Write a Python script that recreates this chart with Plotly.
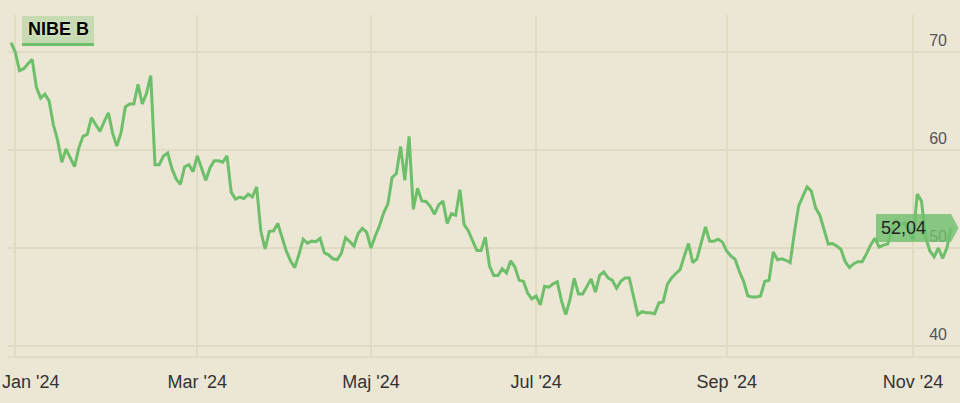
import pandas as pd
import plotly.graph_objects as go

# ---- data -------------------------------------------------------------
HOLIDAYS = ["2024-01-01", "2024-03-29", "2024-04-01", "2024-05-01",
            "2024-05-09", "2024-06-06", "2024-06-21"]
dates = [d.strftime("%Y-%m-%d") for d in pd.bdate_range("2023-12-29", "2024-11-14")
         if d.strftime("%Y-%m-%d") not in HOLIDAYS]

prices = [
    70.95, 70.0, 68.1, 68.3, 68.8, 69.25, 66.4, 65.3, 65.7, 65.0,
    62.6, 61.0, 58.75, 60.1, 59.2, 58.3, 60.2, 61.4, 61.6, 63.3,
    62.6, 61.9, 62.9, 63.8, 61.7, 60.4, 61.8, 64.4, 64.7, 64.7,
    66.7, 64.7, 65.8, 67.6, 58.5, 58.5, 59.4, 59.7, 58.1, 57.05,
    56.5, 58.3, 58.5, 57.8, 59.4, 58.1, 56.9, 58.2, 58.9, 58.9,
    58.75, 59.4, 55.7, 55.0, 55.2, 55.05, 55.5, 55.2, 56.25, 51.7,
    49.9, 51.7, 51.75, 52.5, 51.2, 49.7, 48.7, 48.0, 49.35, 50.9,
    50.5, 50.7, 50.65, 51.0, 49.5, 49.3, 48.9, 48.8, 49.45, 51.05,
    50.65, 50.2, 51.5, 52.0, 51.6, 50.0, 51.2, 52.25, 53.6, 54.5,
    57.2, 57.6, 60.35, 56.9, 61.4, 53.95, 56.1, 54.8, 54.75, 54.25,
    53.45, 54.4, 54.8, 52.5, 53.5, 53.35, 55.95, 52.4, 51.75, 50.8,
    49.75, 49.75, 51.1, 48.15, 47.2, 47.2, 47.9, 47.45, 48.7, 48.05,
    46.7, 46.6, 45.4, 44.8, 45.1, 44.2, 46.1, 46.0, 46.35, 46.55,
    44.6, 43.2, 44.75, 46.9, 45.3, 45.3, 46.1, 46.85, 45.5, 47.2,
    47.55, 46.95, 46.7, 45.9, 46.6, 46.95, 46.95, 45.1, 43.2, 43.5,
    43.4, 43.4, 43.3, 44.4, 44.5, 46.3, 46.95, 47.4, 47.8, 49.2,
    50.45, 48.5, 48.9, 50.55, 52.15, 50.7, 50.7, 50.9, 50.6, 49.7,
    49.2, 48.85, 47.6, 46.6, 45.1, 45.0, 45.0, 45.1, 46.6, 46.7,
    49.6, 48.8, 48.9, 48.75, 48.5, 51.6, 54.3, 55.3, 56.25, 55.8,
    54.1, 53.35, 51.8, 50.4, 50.45, 50.2, 49.85, 48.6, 48.0, 48.4,
    48.6, 48.6, 49.4, 50.3, 51.0, 50.1, 50.3, 50.4, 51.8, 52.9,
    52.3, 52.6, 51.9, 50.8, 55.5, 54.8, 51.05, 49.7, 49.1, 50.0,
    48.95, 50.0, 52.04,
]
assert len(dates) == len(prices), (len(dates), len(prices))

x_tick_dates = ["2024-01-02", "2024-03-01", "2024-05-02", "2024-07-01", "2024-09-02", "2024-11-01"]
x_tick_labels = ["Jan '24", "Mar '24", "Maj '24", "Jul '24", "Sep '24", "Nov '24"]
y_ticks = [40, 50, 60, 70]
series_name = "NIBE B"

# ---- style ------------------------------------------------------------
BG = "#ece6d5"
GRID = "#e2dbc4"
LINE = "#6dbf6a"
FONT = "Liberation Sans, Arial, sans-serif"
W, H = 960, 403
ML, MR, MT, MB = 8, 0, 15, 47
PW, PH = W - ML - MR, H - MT - MB
XFONT = dict(family=FONT, size=18, color="#333333")


def px_x(px):
    return (px - ML) / PW


def px_y(py):
    return (H - MB - py) / PH


fig = go.Figure()
fig.add_trace(go.Scatter(
    x=dates, y=prices, mode="lines", name=series_name,
    line=dict(color=LINE, width=3), hoverinfo="x+y", showlegend=False,
))

last = prices[-1]
half_h = 1.43
fig.add_shape(
    type="path", xref="paper", yref="y", layer="above",
    path=(f"M {px_x(876)},{last + half_h} L {px_x(951)},{last + half_h} "
          f"L {px_x(958.5)},{last} L {px_x(951)},{last - half_h} "
          f"L {px_x(876)},{last - half_h} Z"),
    fillcolor="rgba(112,192,110,0.82)", line=dict(width=0),
)
fig.add_annotation(
    xref="paper", yref="y", x=px_x(879), y=last, xanchor="left", yanchor="middle",
    text=f"{last:.2f}".replace(".", ","), showarrow=False,
    font=dict(family=FONT, size=18, color="#222222"),
)

# first month label is kept inside the chart's left edge (as in the original)
fig.add_annotation(
    xref="paper", yref="paper", x=px_x(0), y=px_y(382), xanchor="left", yanchor="middle",
    text=x_tick_labels[0], showarrow=False, font=XFONT,
)

# legend-like title box
fig.add_shape(type="rect", xref="paper", yref="paper", layer="above",
              x0=px_x(22), x1=px_x(94), y0=px_y(44), y1=px_y(16),
              fillcolor="#c7dbb3", line=dict(width=0))
fig.add_shape(type="line", xref="paper", yref="paper", layer="above",
              x0=px_x(22), x1=px_x(94), y0=px_y(44.5), y1=px_y(44.5),
              line=dict(color=LINE, width=3))
fig.add_annotation(
    xref="paper", yref="paper", x=px_x(58), y=px_y(29.5), xanchor="center", yanchor="middle",
    text=f"<b>{series_name}</b>", showarrow=False,
    font=dict(family=FONT, size=18, color="#000000", shadow="0px 0px 2px #f4efe2"),
)

fig.update_layout(
    width=W, height=H,
    margin=dict(l=ML, r=MR, t=MT, b=MB, autoexpand=False),
    paper_bgcolor=BG, plot_bgcolor=BG,
    font=dict(family=FONT),
    showlegend=False,
    xaxis=dict(
        type="category",
        range=[-0.71, 224.1],
        tickmode="array", tickvals=x_tick_dates, ticktext=[""] + x_tick_labels[1:],
        showgrid=True, gridcolor=GRID, gridwidth=1.5,
        showline=True, linecolor=GRID, linewidth=1.5,
        ticks="", ticklabelstandoff=9, automargin=False,
        tickfont=XFONT,
        zeroline=False, fixedrange=True,
    ),
    yaxis=dict(
        side="right",
        range=[38.98, 73.78],
        tickmode="array", tickvals=y_ticks,
        showgrid=True, gridcolor=GRID, gridwidth=1.5,
        ticks="", ticklabelposition="inside", automargin=False,
        ticklabelshift=-12, ticklabelstandoff=10,
        tickfont=dict(family=FONT, size=16, color="#555555"),
        zeroline=False, showline=False, fixedrange=True,
    ),
)

fig.write_html(
    "out.html",
    config={"displayModeBar": False},
    post_script="document.body.style.margin='0';document.body.style.background='" + BG + "';",
)
